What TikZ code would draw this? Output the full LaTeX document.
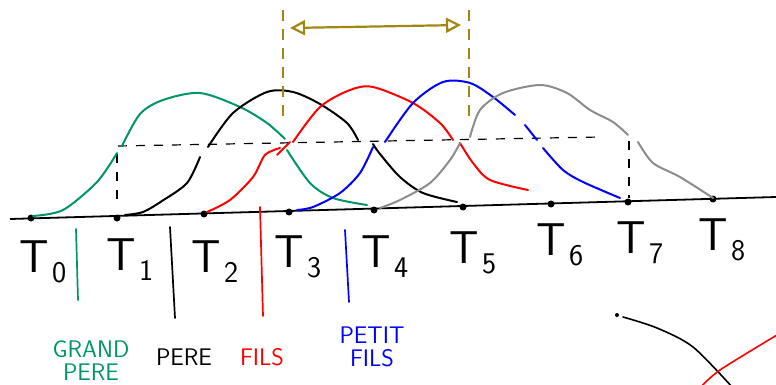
\documentclass[tikz,border=0pt]{standalone}
\usepackage{tikz}
\usetikzlibrary{arrows.meta,calc}

\definecolor{gpgreen}{RGB}{0,150,100}
\definecolor{olive}{RGB}{160,135,15}
\definecolor{gen}{RGB}{140,140,140}

\newcommand{\tlabel}[1]{T\kern3pt\raisebox{-10pt}{\fontsize{30}{30}\selectfont #1}}

\begin{document}
\begin{tikzpicture}[
        x=1pt, y=-1pt,
        life/.style={line width=2pt, line cap=round, line join=round},
        guide/.style={black, line width=1.2pt, dash pattern=on 9pt off 9pt},
        spanmark/.style={olive, line width=1.5pt, dash pattern=on 11pt off 8pt},
        tdot/.style={circle, fill=black, inner sep=0pt, minimum size=7pt},
        tlab/.style={anchor=base west, font=\sffamily\fontsize{46}{46}\selectfont},
        who/.style={font=\sffamily\fontsize{24}{23}\selectfont, align=center},
        sep/.style={line width=1.7pt, line cap=round}
    ]
        \useasboundingbox (0,0) rectangle (776,385);

        % time axis
        \coordinate (axl) at (10,219);
        \coordinate (axr) at (776,197);
        \draw[line width=1.8pt] (axl) -- (axr);
        \foreach \n/\x/\y in {0/31/218, 1/117/218, 2/204/214, 3/289/212, 4/374/210,
                              5/463/207, 6/551/204, 7/628/202, 8/713/199}
            \node[tdot] (t\n) at (\x,\y) {};

        \foreach \n/\x/\y in {0/16/272, 1/103/270, 2/188/272, 3/271/267, 4/358/267,
                              5/446/263, 6/533/255, 7/613/253, 8/695/250}
            \node[tlab] (lab\n) at (\x,\y) {\tlabel{\n}};

        % dashed guides
        \draw[guide] (118,146) -- (600,137);
        \draw[guide] (117,154) -- (117,202);
        \draw[guide] (629,141) -- (629,198);

        % generations
        \draw[life, gpgreen] plot[smooth] coordinates {(33,216) (63,210) (97,182) (117,153)};
        \draw[life, gpgreen] plot[smooth] coordinates {(122,146) (140,114) (163,100) (200,93) (240,107) (267,123) (285,139)};
        \draw[life, gpgreen] plot[smooth] coordinates {(287,150) (310,183) (333,198) (367,205)};

        \draw[life, black] plot[smooth] coordinates {(125,215) (143,212) (162,201) (187,183) (200,157)};
        \draw[life, black] plot[smooth] coordinates {(208,147) (233,113) (267,92) (293,92) (320,104) (347,123) (358,140)};
        \draw[life, black] plot[smooth] coordinates {(373,144) (380,154) (400,177) (423,193) (457,202)};

        \draw[life, red] plot[smooth] coordinates {(207,212) (230,200) (253,177) (265,155) (280,148)};
        \draw[life, red] (277,155) -- (290,142);
        \draw[life, red] plot[smooth] coordinates {(293,142) (320,107) (350,90) (373,87) (413,103) (440,123) (453,140)};
        \draw[life, red] plot[smooth] coordinates {(460,143) (473,163) (490,180) (528,190)};

        \draw[life, blue] plot[smooth] coordinates {(297,210) (313,207) (340,193) (360,173) (373,147)};
        \draw[life, blue] plot[smooth] coordinates {(385,142) (413,103) (443,82) (470,83) (493,97) (515,115)};
        \draw[life, blue] (525,125) -- (537,140);
        \draw[life, blue] plot[smooth] coordinates {(543,148) (563,170) (583,182) (620,198)};

        \draw[life, gen] plot[smooth] coordinates {(380,208) (400,200) (430,183) (450,160) (460,143)};
        \draw[life, gen] plot[smooth] coordinates {(470,137) (480,110) (503,93) (540,85) (567,93) (590,110) (613,122) (628,135)};
        \draw[life, gen] plot[smooth] coordinates {(638,142) (653,163) (680,177) (713,198)};

        % span between generations
        \coordinate (spa) at (283,10);
        \coordinate (spb) at (469,10);
        \draw[spanmark] (spa) -- (283,120);
        \draw[spanmark] (spb) -- (469,123);
        \coordinate (arl) at (290,28);
        \coordinate (arr) at (461,25);
        \draw[olive, line width=2.2pt, {Triangle[open, length=15pt, width=15pt]}-{Triangle[open, length=15pt, width=15pt]}] (arl) -- (arr);

        % separators
        \draw[sep, gpgreen] (76,229) -- (78,300);
        \draw[sep, black] (170,227) -- (175,318);
        \draw[sep, red] (260,207) -- (263,316);
        \draw[sep, blue] (345,230) -- (349,302);

        \node[who, gpgreen] (gp) at (91,361) {GRAND\\PERE};
        \node[who, black] (pe) at (184,357) {PERE};
        \node[who, red] (fi) at (262,357) {FILS};
        \node[who, blue] (pf) at (372,347) {PETIT\\FILS};

        % corner sketch
        \node[tdot, minimum size=4pt] (cd) at (617,315) {};
        \draw[life, black, line width=1.6pt] plot[smooth] coordinates {(623,317) (657,328) (693,347) (733,388)};
        \draw[life, red, line width=1.6pt] plot[smooth] coordinates {(700,388) (720,370) (777,335)};
    \end{tikzpicture}
\end{document}
